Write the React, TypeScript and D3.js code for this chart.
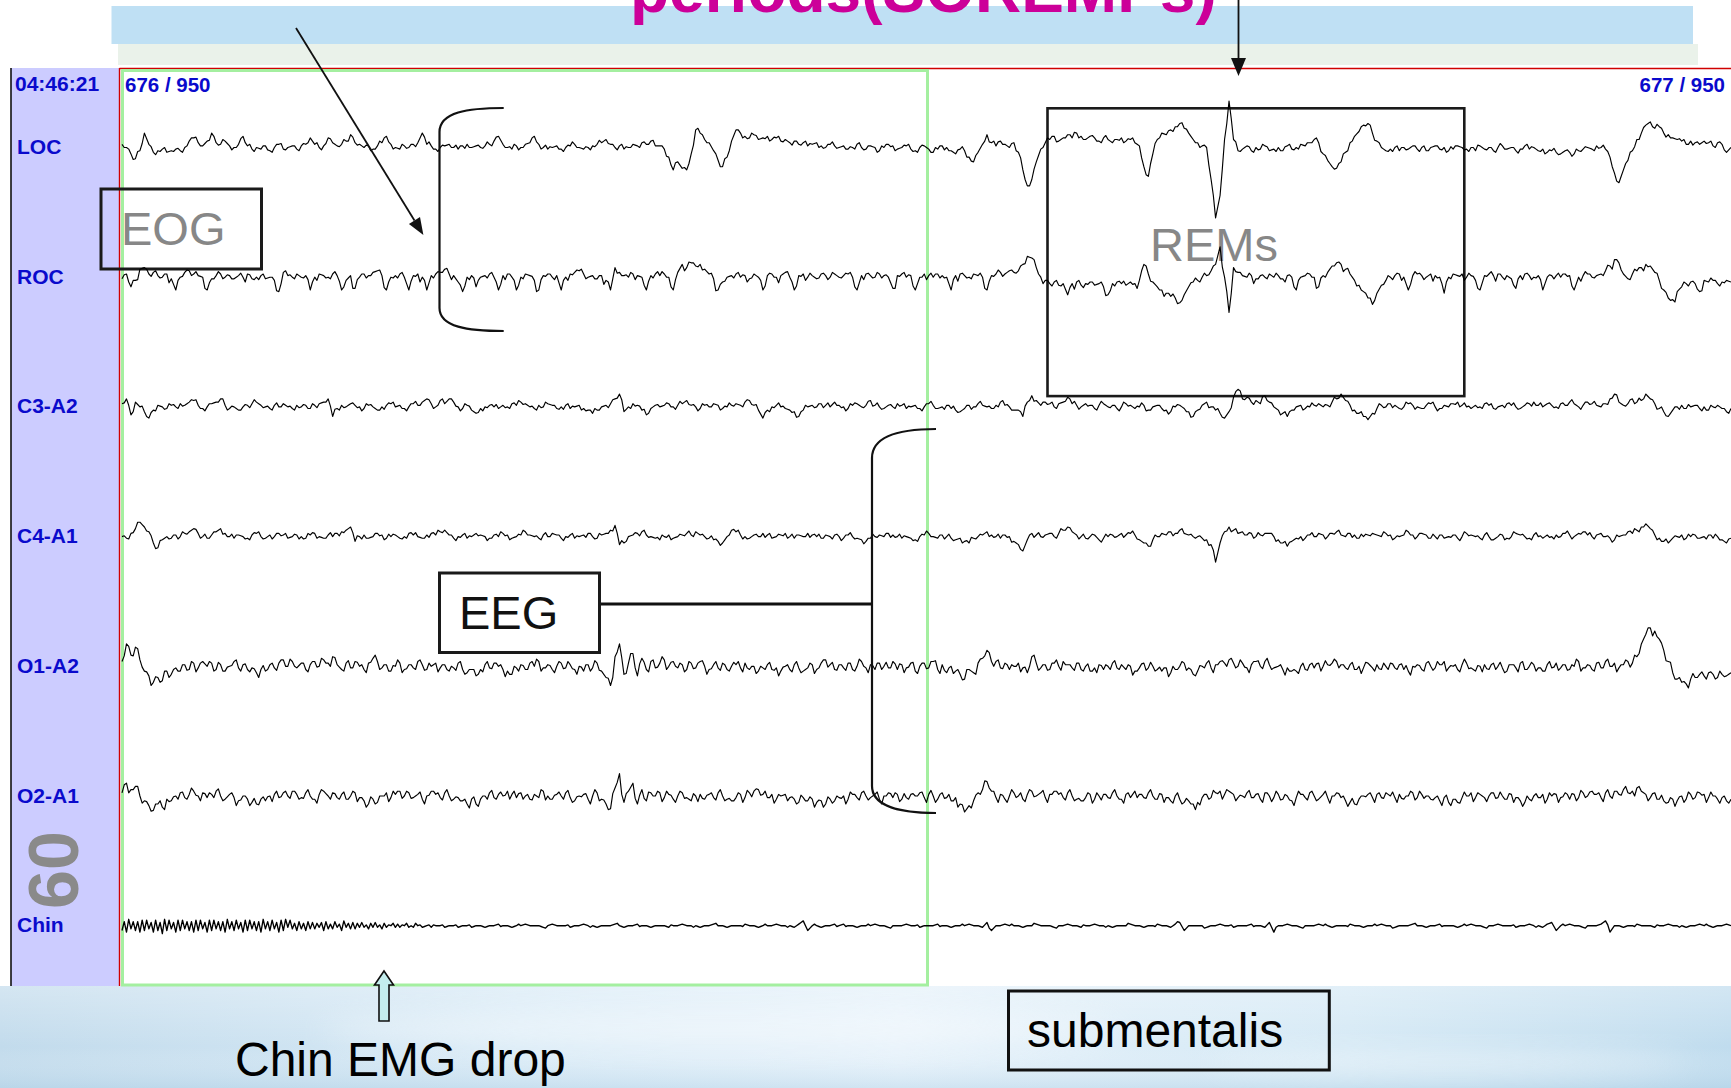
import React from "react";
import * as d3 from "d3";

const WIDTH = 1731;
const HEIGHT = 1088;
const FONT = "'Liberation Sans', Arial, Helvetica, sans-serif";

const CHANNELS = ["LOC", "ROC", "C3-A2", "C4-A1", "O1-A2", "O2-A1", "Chin"];
const STROKES = [1.15, 1.15, 1.15, 1.15, 1.15, 1.15, 1.35];
const TIME_LABEL = "04:46:21";
const EPOCH_LEFT = "676 / 950";
const EPOCH_RIGHT = "677 / 950";
const TITLE_TAIL = "periods(SOREMPs)";
const SENSITIVITY = "60";

// Sampled traces, one character per sample (360 samples per channel).
// Sample value = charCode - 77, so "M" is the baseline; positive values deflect downward.
const LOC_TRACE = [
  "KMQTODKPONPONOMIGJLIDJKILMKFLNMNLOMKNMLN",
  "LKGKMLGJLKIEJKMLNLJFKMNLMKJDKLNMLKMNLKML",
  "MLKIFKMNLMKJFKMNMLNMLKMNMLKJHKMLNMKLJKIL",
  "LNS[VZ[QBDHJOUYSIBDFGEHGFHGIHJIKJLKJLMKL",
  "MLNMKMNLMOMKLNMLNOMLNPNLMOQNOSVPKEJLIKMJ",
  "P[eaVNJHFIGEGDFHFGIGHJHGIHJLY_QHDEB@>ADH",
  "JLMaykH0HONLOMNLONMOLNMKLJHJQUYZVPJFC?>D",
  "IMONMOMNLNMOMLNMONLMNMOLNMOMLNMONLNMONPO",
  "PQOPQONMNLMNS]c[UOHD?=A@DEGHIKIJKIJLJKPM",
].join("");

const ROC_TRACE = [
  "NKSOHGKJLMKNUMJIKLMUNLKMLNLMKNMLNMOVJLMK",
  "MLUMKLMKLUOLTMKLJILUMLKMULKMULKJHKLPVMLS",
  "MLKMULKMUMKLOULKMLUMKJIKMLNLOUGJLMKLMULK",
  "LKMUJEGDFEHKNUPMLKMLNKMULKMLJMULKMLNKLMK",
  "MLKMULKLMKLMTLKMLUMKLMKLMULKLMKLMULKJKIJ",
  "IE@AGMOQPRQXQPRQPRQSXQPQRPQOEKPSUWYZ]XSP",
  "OMLIE:McGJLMLNLMKMLNLMUMLKMSLJFDEHKORVZ^",
  "WROMLKMULKLMKLMWMKLKMLOULKLKMLNTLKLMLUML",
  "LMKLUMLKMLKIFBDKNKIGEFJOUZ[VSQPQVOPOQPOP",
].join("");

const C3_TRACE = [
  "KHRJMPTOLMNLMKLJILNMKJHLNMOMLKJLMNLMKMNL",
  "MLNLKJHSNLMKLMNLMOMLKMLNMKLJHKMIKHJMNLOQ",
  "NMLMNLMKLJKMNLMKLNMLNMLNOQOMLKHEPMKLORNL",
  "MLKMLKILMNLMKLNMLKLJILOTOMLMNOPSOMLMKLMJ",
  "LMNLKMLILMNLMKLNMLNMKLNMLNOPNLMKLMNLJLMO",
  "OSJFILJKMKJGKLMKLNLKMLNMKLNMLOMLNOPMLNPS",
  "OLJMOQTPGBHGJIKFJMOQSOMLNMLKMLJHEILOQSUQ",
  "NLMKLNMKLMNLKMNLMKJLMNLMKLNMLKLMNLKJLMKL",
  "MKLJKMLJKLMKHEJLKHJIEHKNPSOMLNMLNMOMLNPN",
].join("");

const C4_TRACE = [
  "MNKHDGJQTOMNLMKJHKMNLJHKMNLMNLKMNLMKLNML",
  "MNLKMNLMKJIGPMLNMKLNMLNMKLMNLKLJILNMLNMK",
  "LMNLMKLNMLJLMNLMKLNMLNMLKMNLKIFRQMLKJLMN",
  "OMLNMLKLJLMNOPQMIJLMNLMKLNMLKMNLMKLMNLML",
  "MNLMNOPNMLMKLMNMNOMLKMNLMNONPQNMLJLMNLMP",
  "RVOKLMLKMKIGJLMNMLONMLMKLKLOQSOMKLJKIKLM",
  "MNOR]QJGIKJLKMLKKMOQSPNMNLMKLMKJLMKLNMLK",
  "LMKLNMLJLMKLNMLNMLNMKLMNLMOMLNMKLMNLMNLM",
  "LMKLMKJLMLKMNOMLJKIGEHLNPQNMLNMLNMLNMOQN",
].join("");

const O1_TRACE = [
  "J?FAIPSWTVPRNPLOKNJMKOLPMJNLONQOPLNKIMJN",
  "KOLJMIKGLOKNJMOKHJNLPMKOLNJLOMKNLPNKOQOS",
  "OLNKMOPRNLOKMJNLOMKNLOMPLNKPTYG?RKESHOJN",
  "KIMJNLOKNJMOLNKOMLNKOMPNLONPMOLNPNLOKILO",
  "LNKOMJNLOKMNJOLNKPMKNJOLQMPRUOQKHCJJNKOM",
  "KNQGKNLOKMJLNKOMPNLOMKNLOMPNKNMOPNQOMKNR",
  "PMKNLJKIKMKNLJMJLNMONPPMOLNKMLKJLNLOMNKN",
  "LOMKNLOPMLOKMNLJNMOLKNPMLOKMNPLNKOMLNPLN",
  "KNLOMJNLOKNJMKNLJKG?957<CJQUWXUTRSQRTRSQ",
].join("");

const O2_TRACE = [
  "KEIGMPSVRTOPMKNLJMKNLJMOLNPMOQROPMLNKMJL",
  "NKMOLJMKNLOMKNPROQMKNLJMKNLOMJLNKMONPROR",
  "OMKNLMJLNKMOLNJMOLMKNPMLOMKORUH?QJERIPKM",
  "KNLOMKNPMLOLNKMOPNLNKJILNLOMLNOQNPOQPROP",
  "NMOLNKMNLOMKNLONLMKNLMOKNPNRWSPKIDJNLOMK",
  "MOLJMKNLJLNKMOPNLOMLNKMOLNJLNKMOLNPMOQPR",
  "QNLNKJLJLNMKNLOKMNLOMPNLNKMOLNMKNPQROMLN",
  "LNKMNLOMKNLMONPNQOQNMKNLNMKNMOLNPQOMNLOM",
  "LNKOLNKMJLNKMJLIKJHJLNKOPQOPMOLNKLNMONPO",
].join("");

const CHIN_TRACE = [
  "PQOPQPOQPRPOQPOPQPOQPOPQOPOQPOPQOPOQPNOP",
  "OPOONPOONPNOONNONNONMNNMNNMNMNMMNMMNMMNM",
  "MNMMLMMNMMLMMMNMLMMMNMMLMMNMMMLMNMMLMMNM",
  "MMNMMLMMMNMMLMMNMMMLMMNMMMLMMMNLJPMMNMML",
  "MLMMNMMMLMMNMMMLMMNMMMLMMNMMMLMMNKPMMLMM",
  "MNMMLMMMNMMLMMNMMLMMMNMMMLMMNMMLMMNLKPMM",
  "MMNMMLMMNMMMLMMNKQMMLMMNMMMLMMNMMMLMMNMM",
  "MLMMNMMMLMMNMMLMMMNMMLMMNMMLMMMNMMLMMNLK",
  "PMMLMMNMMMLJQMMNMMLMMMNMMLMMMNMMLMMNMMLM",
].join("");

// Fine ripple between consecutive samples, same encoding, measured from the
// halfway level of the two neighbouring samples.
const LOC_FINE = [
  "NLOKNMLONKMNLONLKNMOLNKMONLNKOMLNOLKNMLO",
  "LNMKONLMNKOLNMLONKLNOMKNLOMLKNOLMNKLONML",
  "NKOLMNLKONMLNOKLMNOLKNMLONKMNLOKLNMOLNKM",
  "LONKMLNOKLNMLOKNMLONKLMNOLKNMOLNKLMONLKN",
  "MNLOKNLMOKLNOMLKNOLMNKLONMLKONLMNOKLNMLO",
  "KNOLMNKLOMNLKONMLNOKMLNOLKMNOLKNMLONKLMN",
  "OLNKMNOLKNMLONKLMONLKNOMLNKOLMNLKONMLNKO",
  "LMNOKLNMLOKNMLNOKLMNOLKMNLOKNMLONKLMNOLK",
  "NMLOKNLMONKLNOMLKNOLMNKLONMLKNOLMNKOLNMM",
].join("");

const ROC_FINE = [
  "LNKPMLOKNLQMKNLOKMPLNKOLNMKQLNOKMLPNKLOM",
  "NKLPMNOKLNMQKLONMKPLNOKMLNQKMOLNKPMLNOKL",
  "MOKLNPLKNOMLQKNLOMKPNLKOMNLQKMONLKPMNLOK",
  "KNOLMPKLNOMKQLNMOKLPNMKOLNQMKLONPKMNLOKM",
  "NLKOMPLNKOLMQNKLOMNPKLONMKQLNOMKPLNKOMLN",
  "LOMKNPLOKNMLQKONLMKPNOLKMNQLKOMNPLKONMLK",
  "OKNLMPKONLMKQNLOMKNPLOKMLNQKOMNLPKMONLKN",
  "MNKOLPMNKLOMQNLKOMNPKLOMNKQLOMNKPLONKMLO",
  "KLNOMPKLNMOKQLNMOKLPNMKOLNQMKOLNPMKLONMM",
].join("");

const C3_FINE = [
  "NLOMKNLOMNKLONMLKNOLMNKOLMNLOKMNLOKNMLON",
  "LNKOMNLKONMLNOKLMNOLKMNOLKNMLONKMLNOKLMN",
  "ONLKMNOLKNMLONKMLNOKLMONLKNMOLNKMONLKNML",
  "MLNOKMNLOKLNMOLKNMOLNKMLONKLMNOLKMNLOKMN",
  "NOKLMNLOKNMLONKLMNOLKNMOLKNMLONKMLNOKLNM",
  "LKNOMLNKOMNLKOMNLOKMNLOKNMLKONMLNOKLMNOL",
  "NMOLKNMOLKNLOMKNLMOKLNMOLKNMLOKNMLONKLMO",
  "KNLOMNKLOMNLKONMLNOKLMNOLKNMOLKNMLONKMLN",
  "OLNKMOLNKMLONKMNLOKNMLOKNMLONKMLONKNMLOM",
].join("");

const C4_FINE = [
  "LONKMNLOKMNLOKNMLOKNLMONKLMNOLKNMOLNKMLO",
  "NKLOMNKLONMLKONMLNOKLMNOLKMNOLKNMLONKLMN",
  "MONLKNOMLKNMLOKNMLONKLMOLNKMNOLKNMLOKNML",
  "KNOMLNKOMLNKLOMNLKONMLNOKMLNOKLMNOLKNMOL",
  "OLKNMOLKNMLONKLMNOLKNMLOKNMOLKNLMONKLNOM",
  "NMLOKNMLOKNLMOKNLMOKLNMOLKNMLOKNMLONKMLN",
  "LNOKMLNOKMNLOKNMLONKLMNOLKNMOLNKMLONKLNM",
  "MKNOLMKNOLMNKOLMNLOKNMLOKNMLONKMLNOKLMNO",
  "NLKOMNLKOMNLOKMNLKONMLONKMLNOKLNMOLKNMLM",
].join("");

const O1_FINE = [
  "OKPJNLQKOJPLNKOJQLMKPJOLNJPKOLQJNKPLOJNM",
  "KPLOJNQKMPJOLKQNJPLOKJQNLPKOJMQLNKPJOLKN",
  "PJOLKQNJPLOKJQNLPKOJNQLKPJOMKQNLPJOKLQJN",
  "JQLNKPJOLKQNJPLOKJQNLPKOJNQLKPJOMKQNLPJO",
  "LPKOJNQLKPJOLKQNJPLOKJQNLPKOJMQLNKPJOLKN",
  "QKNJPLOKJQNLPKOJNQLKPJOMKQNLPJOKLQJNKPLO",
  "KOJQNLPKOJNQLKPJOMKQNLPJOKLQJNKPLOJNQKMP",
  "NJPLOKJQNLPKOJNQLKPJOMKQNLPJOKLQJNKPLOJN",
  "PLOKJQNLPKOJNQLKPJOMKQNLPJOKLQJNKPLOJNMM",
].join("");

const O2_FINE = [
  "KQNJPLOKJQNLPKOJNQLKPJOMKQNLPJOKLQJNKPLO",
  "OJNQKMPLOJNKQLPJOKNQJLPKOMJQNLKPJOLNKQJP",
  "LPJOKNQJLPKOMJQNLKPJOLNKQJPLOJNQKMPLOJNK",
  "QJLPKOMJQNLKPJOLNKQJPLOJNQKMPLOJNKQLPJOK",
  "NQJLPKOMJQNLKPJOLNKQJPLOJNQKMPLOJNKQLPJO",
  "JPKOMJQNLKPJOLNKQJPLOJNQKMPLOJNKQLPJOKNQ",
  "PLOJNQKMPLOJNKQLPJOKNQJLPKOMJQNLKPJOLNKQ",
  "KOMJQNLKPJOLNKQJPLOJNQKMPLOJNKQLPJOKNQJL",
  "QNLKPJOLNKQJPLOJNQKMPLOJNKQLPJOKNQJLPKOM",
].join("");

const CHIN_FINE = [
  "GFHGFGHFGEGHFGHGFGHFGHGFHGHFGHGFHGHFGHIH",
  "IHIJIHJIJHJIJJKJJKJLKKLKLKLMLLMLMMLMMLMM",
  "MMMMNMMMLMMMMMNMMMMLMMMMNMMMMMLMMMMNMMMM",
  "MMLMMMMNMMMMLMMMMMNMMMMLMMMMNMMMMMLMMMMN",
  "MNMMMMLMMMMNMMMMMLMMMMNMMMMLMMMMMNMMMMLM",
  "MMMLMMMMNMMMMMLMMMMNMMMMLMMMMMNMMMMLMMMM",
  "MNMMMMMLMMMMNMMMMLMMMMMNMMMMLMMMMNMMMMML",
  "MMMNMMMMLMMMMMNMMMMLMMMMNMMMMMLMMMMNMMMM",
  "MLMMMMNMMMMLMMMMMNMMMMLMMMMNMMMMMLMMMMMM",
].join("");

const TRACES = [LOC_TRACE, ROC_TRACE, C3_TRACE, C4_TRACE, O1_TRACE, O2_TRACE, CHIN_TRACE];
const FINES = [LOC_FINE, ROC_FINE, C3_FINE, C4_FINE, O1_FINE, O2_FINE, CHIN_FINE];

const decode = (s: string): number[] => Array.from(s, (c) => c.charCodeAt(0) - 77);

// Merge the coarse samples with the ripple values that sit between them.
function withRipple(base: number[], fine: number[]): number[] {
  const out: number[] = [];
  base.forEach((v, i) => {
    out.push(v);
    if (i < base.length - 1) out.push((v + base[i + 1]) / 2 + (fine[i] ?? 0));
  });
  return out;
}

export default function App() {
  const chanY = d3.scalePoint<string>().domain(CHANNELS).range([147.5, 925.7]);
  const amp = d3.scaleLinear().domain([-30, 46]).range([-48, 73.6]);

  const tracePaths = CHANNELS.map((ch, ci) => {
    const vals = withRipple(decode(TRACES[ci]), decode(FINES[ci]));
    const x = d3.scaleLinear().domain([0, vals.length - 1]).range([122, WIDTH]);
    const base = chanY(ch) as number;
    const line = d3
      .line<number>()
      .x((_, i) => x(i))
      .y((v) => base + amp(v));
    return line(vals) as string;
  });

  // diagonal pointer arrow toward the ROC trace
  const a0 = [296, 28];
  const a1 = [423.4, 235];
  const dx = a1[0] - a0[0];
  const dy = a1[1] - a0[1];
  const len = Math.hypot(dx, dy);
  const ux = dx / len;
  const uy = dy / len;
  const hl = 17;
  const hw = 6.5;
  const bx = a1[0] - ux * hl;
  const by = a1[1] - uy * hl;
  const diagHead = `${a1[0]},${a1[1]} ${bx - uy * hw},${by + ux * hw} ${bx + uy * hw},${by - ux * hw}`;

  const blue = "#0A0ACC";
  const labelStyle = { fontFamily: FONT, fontWeight: 700 as const, fontSize: 20.5, fill: blue };

  return (
    <svg
      width={WIDTH}
      height={HEIGHT}
      viewBox={`0 0 ${WIDTH} ${HEIGHT}`}
      style={{ position: "absolute", left: 0, top: 0, display: "block" }}
    >
      <defs>
        <linearGradient id="sky" x1="0" y1="0" x2="1" y2="0">
          <stop offset="0" stopColor="#C2DBEC" />
          <stop offset="0.3" stopColor="#D8EAF6" />
          <stop offset="0.52" stopColor="#E5F1FA" />
          <stop offset="0.78" stopColor="#D5E9F5" />
          <stop offset="1" stopColor="#C0DCEE" />
        </linearGradient>
        <linearGradient id="skyV" x1="0" y1="0" x2="0" y2="1">
          <stop offset="0" stopColor="#FFFFFF" stopOpacity="0.3" />
          <stop offset="0.6" stopColor="#FFFFFF" stopOpacity="0" />
          <stop offset="1" stopColor="#A9CCE3" stopOpacity="0.35" />
        </linearGradient>
        <filter id="soft" x="-20%" y="-50%" width="140%" height="200%">
          <feGaussianBlur stdDeviation="14" />
        </filter>
      </defs>

      <rect x={0} y={0} width={WIDTH} height={HEIGHT} fill="#FFFFFF" />

      {/* lower sky backdrop */}
      <rect x={0} y={986} width={WIDTH} height={HEIGHT - 986} fill="url(#sky)" />
      <rect x={0} y={986} width={WIDTH} height={HEIGHT - 986} fill="url(#skyV)" />
      <ellipse cx={720} cy={1030} rx={400} ry={20} fill="#FFFFFF" opacity={0.4} filter="url(#soft)" />
      <ellipse cx={1450} cy={1062} rx={240} ry={14} fill="#FFFFFF" opacity={0.3} filter="url(#soft)" />

      {/* title bands */}
      <rect x={118} y={44} width={1580} height={21} fill="#EAF2EA" />
      <rect x={111.5} y={6} width={1581.5} height={38} fill="#BFE0F4" />
      <text
        x={630}
        y={11.5}
        style={{ fontFamily: FONT, fontWeight: 700, fontSize: 64, fill: "#CC0099" }}
      >
        {TITLE_TAIL}
      </text>

      {/* channel label panel */}
      <rect x={11} y={68} width={108.5} height={918} fill="#CCCCFF" />
      <line x1={11} y1={68} x2={11} y2={986} stroke="#111" strokeWidth={1.6} />
      <line x1={119.5} y1={68} x2={119.5} y2={986} stroke="#D00000" strokeWidth={1.4} />
      <line x1={119.5} y1={68.5} x2={WIDTH} y2={68.5} stroke="#D00000" strokeWidth={1.4} />

      {/* current-epoch frame */}
      <rect x={122.5} y={70.5} width={805} height={914.5} fill="none" stroke="#A4EFA0" strokeWidth={3} />

      <text x={15} y={91} style={{ ...labelStyle, fontSize: 21 }}>
        {TIME_LABEL}
      </text>
      <text x={125} y={92} style={labelStyle}>
        {EPOCH_LEFT}
      </text>
      <text x={1725} y={92} textAnchor="end" style={labelStyle}>
        {EPOCH_RIGHT}
      </text>

      {CHANNELS.map((ch) => (
        <text key={ch} x={17} y={(chanY(ch) as number) + 6.5} style={{ ...labelStyle, fontSize: 21 }}>
          {ch}
        </text>
      ))}

      <text
        transform="translate(78,870) rotate(-90)"
        textAnchor="middle"
        style={{ fontFamily: FONT, fontWeight: 700, fontSize: 70, fill: "#8A8A8A" }}
      >
        {SENSITIVITY}
      </text>

      {/* annotation boxes */}
      <rect x={101} y={189} width={160.5} height={80} fill="none" stroke="#1A1A1A" strokeWidth={3} />
      <text x={121} y={245} style={{ fontFamily: FONT, fontSize: 47, fill: "#878787" }}>
        EOG
      </text>
      <rect x={1047.5} y={108.3} width={416.8} height={287.8} fill="none" stroke="#1A1A1A" strokeWidth={2.6} />
      <text x={1150} y={260.5} style={{ fontFamily: FONT, fontSize: 47, fill: "#878787" }}>
        REMs
      </text>

      {/* traces */}
      <g fill="none" stroke="#000" strokeLinejoin="round">
        {tracePaths.map((d, i) => (
          <path key={CHANNELS[i]} d={d} strokeWidth={STROKES[i]} />
        ))}
      </g>

      {/* EOG bracket */}
      <path
        d="M503.7,108 C468,108 439.5,112 439.5,132 L439.5,308 C439.5,327 468,331 503.7,331"
        fill="none"
        stroke="#111"
        strokeWidth={2.2}
      />
      {/* EEG bracket */}
      <path
        d="M936,429 C900,429 872,436 872,458 L872,786 C872,806 900,813 936,813"
        fill="none"
        stroke="#111"
        strokeWidth={2.2}
      />
      <line x1={599.5} y1={604} x2={872} y2={604} stroke="#111" strokeWidth={3} />
      <rect x={439.5} y={573} width={160} height={79.5} fill="#FFFFFF" stroke="#1A1A1A" strokeWidth={3} />
      <text x={459} y={628.5} style={{ fontFamily: FONT, fontSize: 47, fill: "#111" }}>
        EEG
      </text>

      {/* arrows */}
      <line x1={a0[0]} y1={a0[1]} x2={bx} y2={by} stroke="#111" strokeWidth={1.8} />
      <polygon points={diagHead} fill="#111" />
      <line x1={1238.5} y1={0} x2={1238.5} y2={62} stroke="#111" strokeWidth={1.8} />
      <polygon points="1238.5,76 1231,58 1246,58" fill="#111" />

      {/* bottom captions */}
      <polygon
        points="384,971 393.5,985 389,985 389,1021 379,1021 379,985 374.5,985"
        fill="#C4EEEE"
        stroke="#111"
        strokeWidth={1.6}
      />
      <text x={235} y={1076} style={{ fontFamily: FONT, fontSize: 48, fill: "#000" }}>
        Chin EMG drop
      </text>
      <rect x={1008.5} y={991} width={320.8} height={79} fill="none" stroke="#111" strokeWidth={3} />
      <text x={1027} y={1046.5} style={{ fontFamily: FONT, fontSize: 48, fill: "#000" }}>
        submentalis
      </text>
    </svg>
  );
}
